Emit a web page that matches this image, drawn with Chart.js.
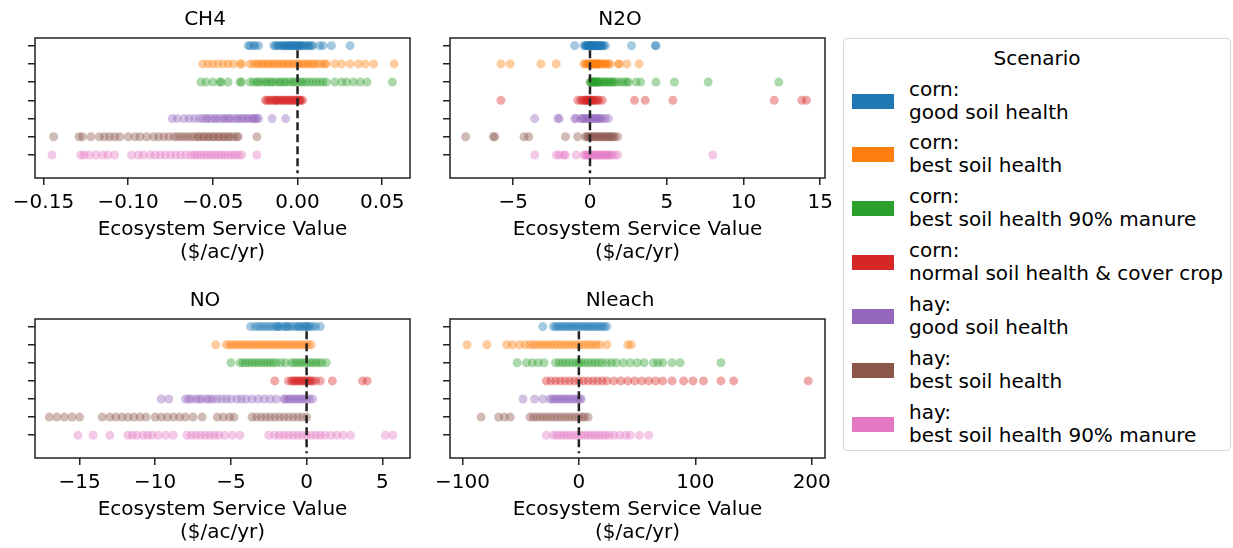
<!DOCTYPE html>
<html>
<head>
<meta charset="utf-8">
<script src="https://cdn.jsdelivr.net/npm/chart.js@4.4.0/dist/chart.umd.min.js"></script>
<style>
  body { margin: 0; background: #fff; font-family: 'DejaVu Sans', sans-serif; }
  #wrap { position: relative; width: 1233px; height: 548px; overflow: hidden; background: #fff; }
  #wrap canvas { position: absolute; }
  #legend { position: absolute; left: 843px; top: 38px; width: 388px; height: 413px; box-sizing: border-box;
            border: 1px solid #d6d6d6; border-radius: 4px; color: #000; font-size: 20px; }
  #legend .ttl { position: absolute; left: 0; width: 100%; text-align: center; line-height: 24px; }
  #legend .patch { position: absolute; left: 8px; width: 42px; height: 15px; }
  #legend .lbl { position: absolute; left: 65px; line-height: 23px; white-space: pre; }
</style>
</head>
<body>
<div id="wrap">
  <div id="legend"></div>
</div>
<script>
// Escenarios y colores (tab10)
const scenarios = [
    'corn:\ngood soil health',
    'corn:\nbest soil health',
    'corn:\nbest soil health 90% manure',
    'corn:\nnormal soil health & cover crop',
    'hay:\ngood soil health',
    'hay:\nbest soil health',
    'hay:\nbest soil health 90% manure'
];
const colors = ['#1f77b4', '#ff7f0e', '#2ca02c', '#d62728', '#9467bd', '#8c564b', '#e377c2'];

// Valores (una lista por escenario)
const ch4Values = [
    [-0.029, -0.028, -0.026, -0.025, -0.023, -0.014, -0.013, -0.012, -0.011, -0.010, -0.009, -0.008, -0.0075, -0.007, -0.006, -0.005, -0.0045, -0.004, -0.003, -0.0025, -0.002, -0.001, -0.0005, 0.000, 0.001, 0.0015, 0.002, 0.003, 0.004, 0.005, 0.006, 0.007, 0.008, 0.009, 0.013, 0.015, 0.020, 0.031],
    [-0.056, -0.053, -0.050, -0.047, -0.044, -0.041, -0.038, -0.034, -0.033, -0.028, -0.026, -0.024, -0.023, -0.021, -0.020, -0.018, -0.017, -0.015, -0.014, -0.012, -0.011, -0.009, -0.008, -0.006, -0.005, -0.003, -0.002, 0.000, 0.001, 0.003, 0.004, 0.006, 0.007, 0.009, 0.010, 0.012, 0.014, 0.016, 0.017, 0.022, 0.026, 0.031, 0.036, 0.040, 0.045, 0.057],
    [-0.057, -0.054, -0.050, -0.046, -0.045, -0.041, -0.034, -0.033, -0.028, -0.026, -0.024, -0.023, -0.021, -0.019, -0.018, -0.016, -0.015, -0.013, -0.011, -0.010, -0.008, -0.007, -0.005, -0.003, -0.002, 0.000, 0.002, 0.003, 0.005, 0.007, 0.009, 0.011, 0.013, 0.015, 0.017, 0.022, 0.026, 0.029, 0.033, 0.037, 0.041, 0.056],
    [-0.019, -0.018, -0.017, -0.016, -0.015, -0.014, -0.013, -0.0125, -0.012, -0.011, -0.010, -0.009, -0.0085, -0.008, -0.007, -0.006, -0.005, -0.0045, -0.004, -0.003, -0.002, -0.001, -0.0005, 0.000, 0.001, 0.0015, 0.002, 0.003],
    [-0.074, -0.071, -0.067, -0.064, -0.061, -0.058, -0.056, -0.054, -0.053, -0.051, -0.049, -0.048, -0.046, -0.044, -0.043, -0.041, -0.040, -0.038, -0.036, -0.035, -0.033, -0.032, -0.030, -0.029, -0.027, -0.026, -0.025, -0.024, -0.023, -0.015, -0.007],
    [-0.144, -0.129, -0.127, -0.122, -0.117, -0.114, -0.111, -0.108, -0.105, -0.100, -0.096, -0.093, -0.089, -0.085, -0.082, -0.079, -0.076, -0.073, -0.071, -0.069, -0.067, -0.065, -0.063, -0.061, -0.059, -0.058, -0.056, -0.055, -0.053, -0.052, -0.050, -0.049, -0.047, -0.046, -0.044, -0.043, -0.041, -0.040, -0.038, -0.036, -0.035, -0.024],
    [-0.145, -0.128, -0.126, -0.123, -0.119, -0.115, -0.112, -0.108, -0.098, -0.094, -0.091, -0.087, -0.084, -0.081, -0.078, -0.075, -0.072, -0.069, -0.066, -0.063, -0.061, -0.059, -0.057, -0.055, -0.053, -0.051, -0.049, -0.047, -0.045, -0.043, -0.041, -0.039, -0.037, -0.035, -0.033, -0.024]
];
const n2oValues = [
    [-1.0, -0.4, -0.3, -0.25, -0.2, -0.15, -0.1, -0.05, 0.0, 0.0, 0.05, 0.1, 0.1, 0.15, 0.2, 0.2, 0.25, 0.3, 0.35, 0.4, 0.45, 0.5, 0.55, 0.6, 0.65, 0.7, 0.75, 0.8, 0.9, 1.0, 2.7, 4.25, 4.3],
    [-5.8, -5.2, -3.2, -2.2, -0.4, -0.3, -0.2, -0.1, 0.0, 0.05, 0.1, 0.15, 0.2, 0.25, 0.3, 0.35, 0.4, 0.45, 0.5, 0.55, 0.6, 0.7, 0.8, 0.9, 1.0, 1.1, 1.2, 1.3, 1.85, 1.9, 2.4, 3.2],
    [0.0, 0.05, 0.1, 0.15, 0.2, 0.25, 0.3, 0.35, 0.4, 0.45, 0.5, 0.55, 0.6, 0.7, 0.8, 0.9, 1.0, 1.1, 1.2, 1.3, 1.4, 1.5, 1.6, 1.8, 2.0, 2.2, 2.4, 2.5, 3.0, 3.3, 4.3, 5.5, 7.7, 12.3],
    [-5.8, -0.8, -0.6, -0.5, -0.4, -0.3, -0.25, -0.2, -0.15, -0.1, -0.05, 0.0, 0.05, 0.1, 0.15, 0.2, 0.3, 0.4, 0.5, 0.6, 0.8, 2.9, 3.6, 5.4, 12.0, 13.8, 14.1],
    [-3.6, -2.1, -2.0, -1.0, -0.9, -0.6, -0.5, -0.4, -0.3, -0.2, -0.1, 0.0, 0.1, 0.2, 0.3, 0.4, 0.5, 0.6, 0.7, 0.8, 1.0, 1.2],
    [-8.1, -6.3, -6.2, -4.3, -4.0, -1.6, -0.8, -0.3, -0.2, -0.1, 0.0, 0.1, 0.2, 0.3, 0.4, 0.5, 0.6, 0.7, 0.8, 0.9, 1.0, 1.1, 1.2, 1.3, 1.4, 1.5, 1.6, 1.8],
    [-3.6, -2.2, -2.0, -1.7, -1.6, -0.9, -0.4, -0.3, -0.2, -0.1, 0.0, 0.1, 0.2, 0.3, 0.4, 0.5, 0.6, 0.7, 0.8, 0.9, 1.0, 1.1, 1.2, 1.3, 1.4, 1.6, 1.8, 8.0]
];
const noValues = [
    [-3.7, -3.4, -3.2, -3.0, -2.8, -2.6, -2.4, -2.2, -2.0, -1.9, -1.8, -1.6, -1.4, -1.3, -1.2, -1.0, -0.8, -0.6, -0.5, -0.4, -0.2, -0.1, 0.0, 0.1, 0.2, 0.4, 0.6, 0.9],
    [-6.0, -5.3, -5.1, -4.9, -4.7, -4.5, -4.3, -4.1, -3.9, -3.7, -3.5, -3.3, -3.1, -2.9, -2.7, -2.5, -2.3, -2.1, -1.9, -1.7, -1.5, -1.3, -1.1, -0.9, -0.7, -0.5, -0.3, -0.1, 0.1, 0.3],
    [-5.0, -4.4, -4.2, -4.0, -3.8, -3.6, -3.4, -3.2, -3.0, -2.8, -2.6, -2.4, -2.2, -2.0, -1.7, -1.4, -1.0, -0.8, -0.6, -0.4, -0.2, 0.0, 0.2, 0.4, 0.6, 0.8, 1.0, 1.3],
    [-2.1, -1.2, -1.0, -0.9, -0.8, -0.7, -0.6, -0.5, -0.4, -0.3, -0.2, -0.1, 0.0, 0.1, 0.2, 0.3, 0.4, 0.6, 0.9, 1.7, 3.7, 4.0],
    [-9.6, -9.1, -8.0, -7.8, -7.6, -7.3, -7.1, -6.9, -6.6, -6.4, -6.2, -5.9, -5.6, -5.3, -5.0, -4.6, -4.3, -4.0, -3.6, -3.2, -2.8, -2.4, -2.0, -1.5, -1.4, -1.2, -1.1, -0.9, -0.8, -0.6, -0.5, -0.3, -0.2, 0.0, 0.2, 0.4],
    [-17.0, -16.5, -16.0, -15.5, -15.0, -13.5, -13.0, -12.6, -12.2, -11.8, -11.4, -11.0, -10.6, -10.0, -9.6, -9.2, -8.8, -8.4, -8.0, -7.5, -6.9, -5.9, -5.5, -5.1, -4.8, -3.6, -3.3, -3.0, -2.7, -2.4, -2.1, -1.8, -1.5, -1.2, -0.9, -0.6, -0.3, 0.0],
    [-15.1, -14.1, -13.0, -11.8, -11.5, -11.2, -10.8, -10.5, -10.2, -9.8, -9.3, -8.8, -7.9, -7.6, -7.3, -7.0, -6.7, -6.4, -6.1, -5.8, -5.4, -4.9, -4.4, -2.5, -2.1, -1.8, -1.5, -1.2, -0.9, -0.6, -0.3, 0.0, 0.3, 0.6, 0.9, 1.2, 1.6, 2.0, 2.4, 2.9, 5.2, 5.7]
];
const nleachValues = [
    [-31, -22, -20, -18, -16, -14, -12, -10, -8, -6, -4, -2, 0, 2, 4, 6, 8, 10, 12, 14, 16, 18, 20, 22, 24],
    [-96, -79, -62, -57, -51, -46, -42, -39, -36, -33, -30, -27, -24, -21, -18, -15, -12, -9, -6, -3, 0, 3, 6, 9, 12, 15, 18, 24, 42, 45],
    [-53, -45, -40, -35, -30, -20, -17, -14, -11, -8, -5, -2, 0, 2, 5, 8, 11, 14, 17, 20, 24, 28, 32, 38, 44, 50, 56, 64, 68, 72, 80, 87, 122],
    [-28, -24, -20, -16, -12, -8, -4, 0, 4, 8, 12, 16, 20, 24, 30, 36, 42, 48, 54, 60, 66, 72, 80, 90, 98, 107, 122, 133, 197],
    [-48, -38, -31, -25, -23, -21, -19, -17, -15, -13, -11, -9, -7, -5, -3, -1, 1, 2],
    [-84, -69, -64, -59, -42, -39, -36, -33, -30, -27, -24, -21, -18, -15, -12, -9, -6, -3, 0, 3, 5, 8],
    [-28, -22, -19, -16, -13, -10, -7, -4, -1, 2, 5, 8, 11, 14, 17, 20, 23, 26, 30, 35, 40, 44, 52, 60]
];

// Marcas de los ejes
const ch4Ticks = [-0.15, -0.10, -0.05, 0.00, 0.05];
const ch4TickLabels = ['\u22120.15', '\u22120.10', '\u22120.05', '0.00', '0.05'];
const n2oTicks = [-5, 0, 5, 10, 15];
const n2oTickLabels = ['\u22125', '0', '5', '10', '15'];
const noTicks = [-15, -10, -5, 0, 5];
const noTickLabels = ['\u221215', '\u221210', '\u22125', '0', '5'];
const nleachTicks = [-100, 0, 100, 200];
const nleachTickLabels = ['\u2212100', '0', '100', '200'];
const rowTicks = [0, 1, 2, 3, 4, 5, 6];
const zeroLineY = [0.25, 7];

const axisTitle = ['Ecosystem Service Value', '($/ac/yr)'];
const FONT = "'DejaVu Sans', sans-serif";

function rgba(hex, a) {
    const n = parseInt(hex.slice(1), 16);
    return `rgba(${(n >> 16) & 255}, ${(n >> 8) & 255}, ${n & 255}, ${a})`;
}

// Marco completo alrededor del área del gráfico
const framePlugin = {
    id: 'frame',
    afterDatasetsDraw(chart) {
        const { ctx, chartArea: a } = chart;
        ctx.save();
        ctx.strokeStyle = '#222';
        ctx.lineWidth = 1.5;
        ctx.strokeRect(a.left, a.top, a.right - a.left, a.bottom - a.top);
        ctx.restore();
    }
};

const panels = [
    { title: 'CH4', values: ch4Values, min: -0.155, max: 0.0664, ticks: ch4Ticks, labels: ch4TickLabels, left: 0, top: 0, height: 268 },
    { title: 'N2O', values: n2oValues, min: -9.12, max: 15.31, ticks: n2oTicks, labels: n2oTickLabels, left: 415, top: 0, height: 268 },
    { title: 'NO', values: noValues, min: -17.94, max: 6.83, ticks: noTicks, labels: noTickLabels, left: 0, top: 281, height: 267 },
    { title: 'Nleach', values: nleachValues, min: -110.7, max: 211.4, ticks: nleachTicks, labels: nleachTickLabels, left: 415, top: 281, height: 267 }
];

function renderPanel(p) {
    const canvas = document.createElement('canvas');
    canvas.width = 425;
    canvas.height = p.height;
    canvas.style.left = p.left + 'px';
    canvas.style.top = p.top + 'px';
    document.getElementById('wrap').appendChild(canvas);

    // Línea discontinua en cero (primer dataset = se dibuja encima)
    const datasets = [{
        data: zeroLineY.map(y => ({ x: 0, y: y })),
        showLine: true,
        borderColor: '#222',
        borderWidth: 2.5,
        borderDash: [8, 4],
        pointRadius: 0,
        fill: false
    }];
    p.values.forEach((vals, i) => {
        datasets.push({
            label: scenarios[i],
            data: vals.map(v => ({ x: v, y: i })),
            backgroundColor: rgba(colors[i], 0.4),
            borderWidth: 0,
            pointRadius: 4.5,
            pointHoverRadius: 4.5
        });
    });

    new Chart(canvas, {
        type: 'scatter',
        data: { datasets: datasets },
        plugins: [framePlugin],
        options: {
            responsive: false,
            animation: false,
            devicePixelRatio: 1,
            events: [],
            layout: { padding: { left: 0, right: 15, top: 0, bottom: 0 } },
            plugins: {
                legend: { display: false },
                tooltip: { enabled: false },
                title: {
                    display: true,
                    text: p.title,
                    color: '#000',
                    font: { family: FONT, size: 20, weight: 'normal', lineHeight: 1.2 },
                    padding: { top: 8, bottom: 6 }
                }
            },
            scales: {
                x: {
                    type: 'linear',
                    min: p.min,
                    max: p.max,
                    afterBuildTicks: s => { s.ticks = p.ticks.map(v => ({ value: v })); },
                    afterFit: s => { s.height = 90; s.paddingLeft = 0; s.paddingRight = 0; },
                    border: { display: false },
                    grid: { drawOnChartArea: false, drawTicks: true, tickLength: 7, color: '#222', lineWidth: 1.5 },
                    ticks: {
                        color: '#000',
                        font: { family: FONT, size: 20 },
                        padding: 6,
                        maxRotation: 0,
                        autoSkip: false,
                        callback: (v, i) => p.labels[i]
                    },
                    title: {
                        display: true,
                        text: axisTitle,
                        color: '#000',
                        font: { family: FONT, size: 20, lineHeight: 1.15 },
                        padding: { top: 0, bottom: 4 }
                    }
                },
                y: {
                    type: 'linear',
                    reverse: true,
                    min: -0.42,
                    max: 7.26,
                    afterBuildTicks: s => { s.ticks = rowTicks.map(v => ({ value: v })); },
                    afterFit: s => { s.width = 35; s.paddingTop = 0; s.paddingBottom = 0; },
                    border: { display: false },
                    grid: { drawOnChartArea: false, drawTicks: true, tickLength: 7, color: '#222', lineWidth: 1.5 },
                    ticks: { padding: 0, callback: () => '' }
                }
            }
        }
    });
}

panels.forEach(renderPanel);

// Leyenda "Scenario"
const legend = document.getElementById('legend');
const ttl = document.createElement('div');
ttl.className = 'ttl';
ttl.style.top = (18.7 - 12) + 'px';
ttl.textContent = 'Scenario';
legend.appendChild(ttl);
scenarios.forEach((name, i) => {
    const cy = 62 + 53.9 * i;
    const patch = document.createElement('div');
    patch.className = 'patch';
    patch.style.top = (cy - 7.5) + 'px';
    patch.style.background = colors[i];
    legend.appendChild(patch);
    const lbl = document.createElement('div');
    lbl.className = 'lbl';
    lbl.style.top = (cy - 23.5) + 'px';
    lbl.textContent = name;
    legend.appendChild(lbl);
});
</script>
</body>
</html>
